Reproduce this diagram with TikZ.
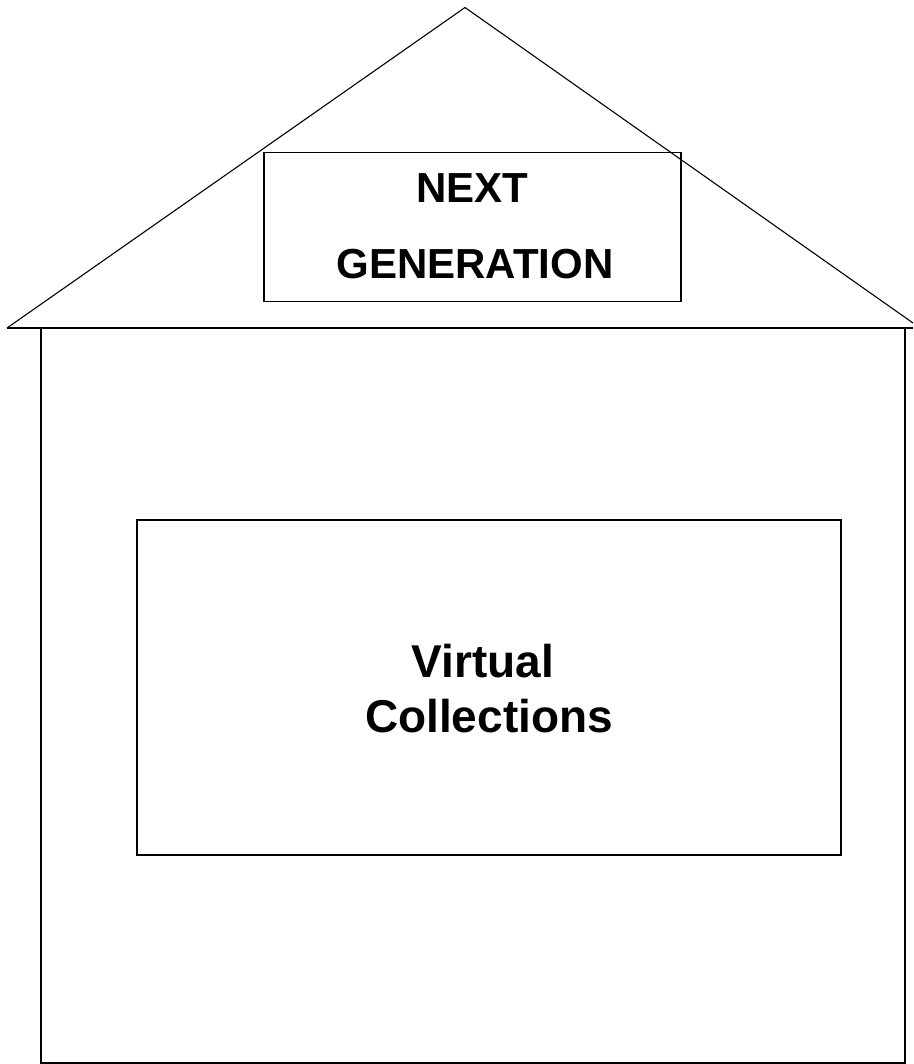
\documentclass[tikz,border=0pt]{standalone}
\usepackage{fontspec}
\setmainfont{Liberation Sans}
\begin{document}
\begin{tikzpicture}[x=1pt,y=-1pt,
  roofline/.style={line width=1.1pt,black},
  bodyline/.style={line width=2pt,black},
  nextbox/.style={draw,line width=1.3pt,inner sep=0pt},
  vcbox/.style={draw,line width=2pt,inner sep=0pt},
  bigtxt/.style={font=\bfseries\fontsize{42}{50}\selectfont,inner sep=0pt,anchor=base},
  vctxt/.style={font=\bfseries\fontsize{46}{55}\selectfont,inner sep=0pt,anchor=base}]
\useasboundingbox (0,0) rectangle (913,1064);
% roof
\coordinate (apex) at (465,7.5);
\coordinate (rl) at (7,328);
\coordinate (rr) at (913,323);
\draw[roofline] (rl) -- (apex) -- (rr);
\draw[bodyline] (rl) -- (913,328);
% body
\draw[bodyline] (41,328) -- (41,1063) -- (905,1063) -- (905,328);
% next generation box
\node[nextbox,minimum width=417pt,minimum height=149pt] (ng) at (472.5,227) {};
\node[bigtxt] (t1) at (472,203) {NEXT};
\node[bigtxt] (t2) at (475,279) {GENERATION};
% virtual collections box
\node[vcbox,minimum width=704pt,minimum height=335pt] (vc) at (489,687.5) {};
\node[vctxt] (v1) at (483,677) {Virtual};
\node[vctxt] (v2) at (489,732) {Collections};
\end{tikzpicture}
\end{document}
